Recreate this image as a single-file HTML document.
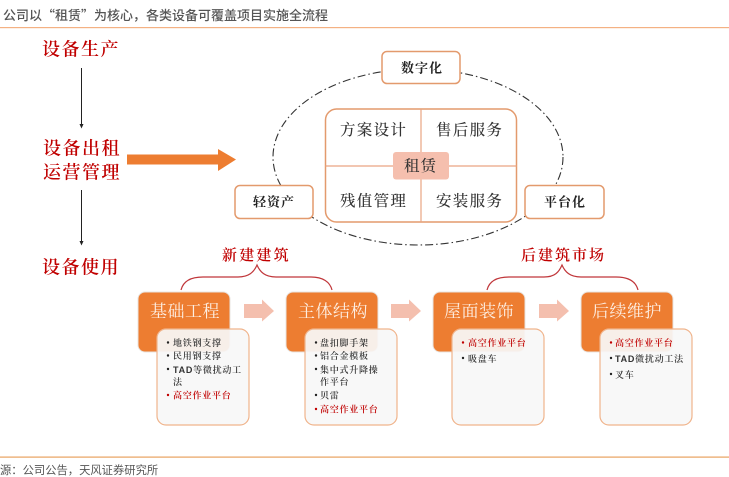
<!DOCTYPE html>
<html lang="zh">
<head>
<meta charset="utf-8">
<style>
html,body{margin:0;padding:0;background:#fff;}
svg{display:block;}
.s{font-family:"Liberation Serif","Noto Serif CJK SC",serif;}
.h{font-family:"Noto Sans CJK SC",sans-serif;}
.red{fill:#c00000;font-weight:600;}
.li{font-size:9px;letter-spacing:.75px;fill:#333;font-weight:600;font-family:"Liberation Sans","Noto Serif CJK SC",serif;}
.lr{font-size:9px;letter-spacing:.75px;fill:#c00000;font-family:"Liberation Sans","Noto Serif CJK SC",serif;font-weight:600;}
</style>
</head>
<body>
<svg width="729" height="477" viewBox="0 0 729 477" xmlns="http://www.w3.org/2000/svg">
<rect width="729" height="477" fill="#fff"/>
<text x="3" y="20" class="h" font-size="13" font-weight="500" fill="#555">公司以“租赁”为核心，各类设备可覆盖项目实施全流程</text>
<rect x="0" y="27" width="729" height="1.2" fill="#f4b183"/>

<g class="s red" font-size="18">
<text x="42" y="55.5" letter-spacing="1.500">设备生产</text>
<text x="43" y="154.5" letter-spacing="1.500">设备出租</text>
<text x="43" y="178.5" letter-spacing="1.500">运营管理</text>
<text x="42" y="273.5" letter-spacing="1.500">设备使用</text>
</g>
<g stroke="#222" stroke-width="1" fill="#222">
<line x1="81.5" y1="68" x2="81.5" y2="125"/>
<line x1="81.5" y1="190" x2="81.5" y2="242"/>
<path d="M79.500 124h4l-2 4.500z" stroke="none"/>
<path d="M79.500 241h4l-2 4.500z" stroke="none"/>
</g>
<path d="M127 154.500H218V149L236 159.500L218 171V164.500H127Z" fill="#ed7d31"/>

<ellipse cx="418" cy="157" rx="145" ry="88" fill="none" stroke="#333" stroke-width="1.100" stroke-dasharray="8 3 1.500 3"/>

<g fill="#fff" stroke="#e39a6d" stroke-width="1.500">
<rect x="382" y="51.500" width="78" height="32" rx="5"/>
<rect x="235" y="185.500" width="78" height="33" rx="5"/>
<rect x="525" y="185.500" width="79" height="33" rx="5"/>
<rect x="325.500" y="109" width="191" height="113" rx="11"/>
</g>
<g stroke="#e9a582" stroke-width="1.200">
<line x1="421" y1="109" x2="421" y2="222"/>
<line x1="325.500" y1="166" x2="516.500" y2="166"/>
</g>
<rect x="393" y="152" width="56" height="27.500" rx="3" fill="#f5bfae"/>
<g class="s" fill="#222" font-size="13" font-weight="700">
<text x="401" y="72.500" letter-spacing="1">数字化</text>
<text x="253" y="206.500" letter-spacing="1">轻资产</text>
<text x="544" y="206.500" letter-spacing="1">平台化</text>
</g>
<g class="s" fill="#333" font-size="15.500" font-weight="500">
<text x="340" y="135" letter-spacing="1.300">方案设计</text>
<text x="436" y="135" letter-spacing="1.300">售后服务</text>
<text x="340" y="206" letter-spacing="1.300">残值管理</text>
<text x="436" y="206" letter-spacing="1.300">安装服务</text>
<text x="404" y="171" letter-spacing="1">租赁</text>
</g>

<g class="s red" font-size="15">
<text x="222" y="260" letter-spacing="2.200">新建建筑</text>
<text x="521" y="260" letter-spacing="2">后建筑市场</text>
</g>
<g fill="none" stroke="#c0363a" stroke-width="1.200">
<path d="M181 290C183 282 190 277 203 277H238C249 277 254 272 257 265C260 272 265 277 276 277H311C323 277 330 282 332 290"/>
<path d="M487 290C489 282 496 277 509 277H544C555 277 559 272 562 265C565 272 570 277 581 277H616C629 277 636 282 638 290"/>
</g>

<g fill="#ed7d31" stroke="#e8e4e0" stroke-width="1">
<rect x="138" y="292" width="92" height="60" rx="7"/>
<rect x="286" y="292" width="92" height="60" rx="7"/>
<rect x="433" y="292" width="92" height="60" rx="7"/>
<rect x="581" y="292" width="92" height="60" rx="7"/>
</g>
<g class="s" fill="#fdeee2" font-size="17">
<text x="150" y="317" letter-spacing=".5">基础工程</text>
<text x="298" y="317" letter-spacing=".5">主体结构</text>
<text x="444" y="317" letter-spacing=".5">屋面装饰</text>
<text x="592" y="317" letter-spacing=".5">后续维护</text>
</g>
<g fill="#f4bfae">
<path d="M244 304H262V299.500L274 311L262 321.500V318H244Z"/>
<path d="M391 304H409V299.500L421 311L409 321.500V318H391Z"/>
<path d="M539 304H557V299.500L569 311L557 321.500V318H539Z"/>
</g>
<g fill="#f7f7f7" fill-opacity=".93" stroke="#f0b48c" stroke-width="1.200">
<rect x="157" y="329" width="92" height="96" rx="9"/>
<rect x="305" y="329" width="92" height="96" rx="9"/>
<rect x="452" y="329" width="92" height="96" rx="9"/>
<rect x="600" y="329" width="92" height="96" rx="9"/>
</g>

<g fill="#222">
<circle cx="168" cy="342.500" r="1.200"/><circle cx="168" cy="355.500" r="1.200"/><circle cx="168" cy="369" r="1.200"/>
<circle cx="316" cy="342.500" r="1.200"/><circle cx="316" cy="355.500" r="1.200"/><circle cx="316" cy="369" r="1.200"/><circle cx="316" cy="395" r="1.200"/>
<circle cx="463" cy="358" r="1.200"/>
<circle cx="611" cy="358" r="1.200"/><circle cx="611" cy="374" r="1.200"/>
</g>
<g fill="#c00000">
<circle cx="168" cy="395" r="1.200"/><circle cx="316" cy="409" r="1.200"/><circle cx="463" cy="342.500" r="1.200"/><circle cx="611" cy="342.500" r="1.200"/>
</g>
<text x="173" y="346" class="li">地铁钢支撑</text>
<text x="173" y="359" class="li">民用钢支撑</text>
<text x="173" y="373" class="li">TAD等微扰动工</text>
<text x="173" y="385" class="li">法</text>
<text x="173" y="398.500" class="lr">高空作业平台</text>

<text x="320" y="346" class="li">盘扣脚手架</text>
<text x="320" y="359" class="li">铝合金模板</text>
<text x="320" y="373" class="li">集中式升降操</text>
<text x="320" y="385" class="li">作平台</text>
<text x="320" y="398.500" class="li">贝雷</text>
<text x="320" y="412.500" class="lr">高空作业平台</text>

<text x="468" y="346" class="lr">高空作业平台</text>
<text x="468" y="362" class="li">吸盘车</text>

<text x="615" y="346" class="lr">高空作业平台</text>
<text x="615" y="362" class="li">TAD微扰动工法</text>
<text x="615" y="378" class="li">叉车</text>

<rect x="0" y="456.500" width="729" height="1.200" fill="#e8a25f"/>
<text x="0" y="474" class="h" font-size="11.300" fill="#555">源：公司公告，天风证券研究所</text>
</svg>
</body>
</html>
